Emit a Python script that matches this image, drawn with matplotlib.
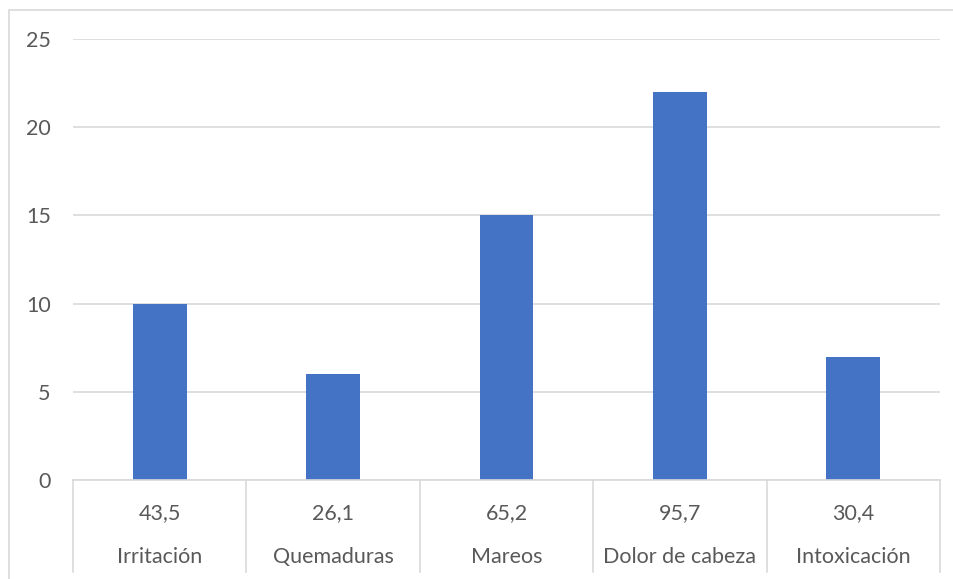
import matplotlib.pyplot as plt
from matplotlib.lines import Line2D
from matplotlib.patches import Rectangle

categorias = ["Irritación", "Quemaduras", "Mareos", "Dolor de cabeza", "Intoxicación"]
valores = [10, 6, 15, 22, 7]
porcentajes = ["43,5", "26,1", "65,2", "95,7", "30,4"]
y_ticks = [0, 5, 10, 15, 20, 25]

plt.rcParams['font.family'] = ['Lato', 'DejaVu Sans']
TEXT = '#595959'
GRID = '#D9D9D9'
FS = 15.5

fig = plt.figure(figsize=(9.54, 5.79), dpi=100)
ax = fig.add_axes([73/954, 1 - 480/579, (940-73)/954, (480-39)/579])

x = range(len(categorias))
ax.bar(x, valores, width=0.31, color='#4472C4', zorder=3)
ax.set_xlim(-0.5, len(categorias) - 0.5)
ax.set_ylim(0, 25)
ax.set_yticks(y_ticks)
ax.set_yticklabels([str(v) for v in y_ticks], color=TEXT, fontsize=FS)
ax.tick_params(axis='y', length=0, pad=16)
ax.set_xticks([])
ax.grid(axis='y', color=GRID, linewidth=1.2, zorder=0)
for s in ax.spines.values():
    s.set_visible(False)

# table under the axis
bottom_px = 572
y0 = 1 - 480/579
y1 = 1 - bottom_px/579
fig.add_artist(Line2D([73/954, 940/954], [y0, y0], color=GRID, lw=1.2))
for i in range(len(categorias) + 1):
    xf = (73 + i * (940-73) / len(categorias)) / 954
    fig.add_artist(Line2D([xf, xf], [y0, y1], color=GRID, lw=1.2))
for i, (c, p) in enumerate(zip(categorias, porcentajes)):
    xf = (73 + (i + 0.5) * (940-73) / len(categorias)) / 954
    fig.text(xf, 1 - 513/579, p, ha='center', va='center', color=TEXT, fontsize=FS)
    fig.text(xf, 1 - 557/579, c, ha='center', va='center', color=TEXT, fontsize=FS)

# chart border
fig.add_artist(Rectangle((9/954, -0.1), 1.0, 1 - 10/579 + 0.1, fill=False,
                         edgecolor='#D9D9D9', lw=1.2, transform=fig.transFigure))

fig.savefig("out.png", dpi=100)
